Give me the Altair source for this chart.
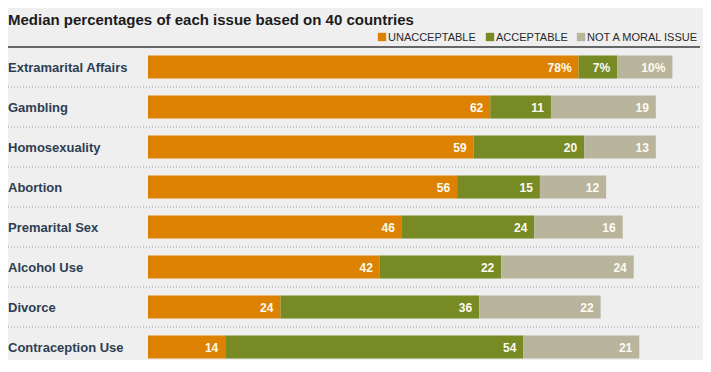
import altair as alt
import pandas as pd

issues = ["Extramarital Affairs", "Gambling", "Homosexuality", "Abortion",
          "Premarital Sex", "Alcohol Use", "Divorce", "Contraception Use"]
unacceptable = [78, 62, 59, 56, 46, 42, 24, 14]
acceptable = [7, 11, 20, 15, 24, 22, 36, 54]
not_moral = [10, 19, 13, 12, 16, 24, 22, 21]
categories = ["UNACCEPTABLE", "ACCEPTABLE", "NOT A MORAL ISSUE"]
colors = ["#dc8102", "#778a23", "#b9b59d"]
title_text = "Median percentages of each issue based on 40 countries"

rows = []
for i, issue in enumerate(issues):
    for k, (cat, vals) in enumerate(zip(categories, [unacceptable, acceptable, not_moral])):
        v = vals[i]
        rows.append({"issue": issue, "category": cat, "order": k, "value": v,
                     "label": f"{v}%" if i == 0 else str(v)})
df = pd.DataFrame(rows)

W, H = 552, 313
y_scale = alt.Scale(domain=issues, range=[0, 320], paddingInner=0, paddingOuter=0)
x_scale = alt.Scale(domain=[0, 100], nice=False, zero=True)

base = alt.Chart(df).transform_stack(
    stack="value", groupby=["issue"], as_=["x0", "x1"],
    sort=[alt.SortField("order", order="ascending")]
)

bars = base.mark_bar(size=23).encode(
    y=alt.Y("issue:N", scale=y_scale, axis=None),
    x=alt.X("x0:Q", scale=x_scale, axis=None),
    x2="x1:Q",
    color=alt.Color("category:N", scale=alt.Scale(domain=categories, range=colors), legend=None),
)

labels = base.mark_text(align="right", baseline="middle", dx=-7, dy=1,
                        font="Liberation Sans", fontWeight="bold", fontSize=12,
                        color="#fdfbf2").encode(
    y=alt.Y("issue:N", scale=y_scale, axis=None),
    x=alt.X("x1:Q", scale=x_scale, axis=None),
    text="label:N",
)

issue_df = pd.DataFrame({"issue": issues})
row_labels = alt.Chart(issue_df).mark_text(
    align="left", baseline="middle", font="Liberation Sans", fontWeight="bold",
    fontSize=13, color="#2e3e52", dy=1
).encode(
    y=alt.Y("issue:N", scale=y_scale, axis=None),
    x=alt.value(-140),
    text="issue:N",
)

seps = alt.Chart(issue_df).mark_rule(strokeDash=[1, 2], color="#9a9a9a", strokeWidth=1).encode(
    y=alt.Y("issue:N", scale=y_scale, axis=None, bandPosition=1),
    x=alt.value(-143), x2=alt.value(W),
)

header = alt.Chart(pd.DataFrame({"a": [0]})).mark_rule(color="#3a3a3a", strokeWidth=1.5).encode(
    y=alt.value(0), x=alt.value(-143), x2=alt.value(W),
)

title = alt.Chart(pd.DataFrame({"t": [title_text]})).mark_text(
    align="left", baseline="alphabetic", font="Liberation Sans", fontWeight="bold",
    fontSize=15, color="#1c1c1c"
).encode(x=alt.value(-140), y=alt.value(-22), text="t:N")

leg_df = pd.DataFrame({"category": categories, "sx": [234, 342, 433]})
leg_sq = alt.Chart(leg_df).mark_square(size=70, opacity=1).encode(
    x=alt.X("sx:Q", scale=None), y=alt.value(-10),
    color=alt.Color("category:N", scale=alt.Scale(domain=categories, range=colors), legend=None),
)
leg_tx = alt.Chart(leg_df).mark_text(
    align="left", baseline="middle", font="Liberation Sans", fontSize=11, color="#2a2a2a", dx=6
).encode(x=alt.X("sx:Q", scale=None), y=alt.value(-9.5), text="category:N")

chart = alt.layer(seps, header, bars, labels, row_labels, title, leg_sq, leg_tx).resolve_scale(
    color="shared"
).properties(
    width=W, height=H,
    autosize=alt.AutoSizeParams(type="none"),
    padding={"left": 140, "top": 39, "right": 3, "bottom": 0},
    background="#efefef",
).configure_view(stroke=None)

chart.save("out.html", embed_options={"renderer": "svg", "actions": False})
